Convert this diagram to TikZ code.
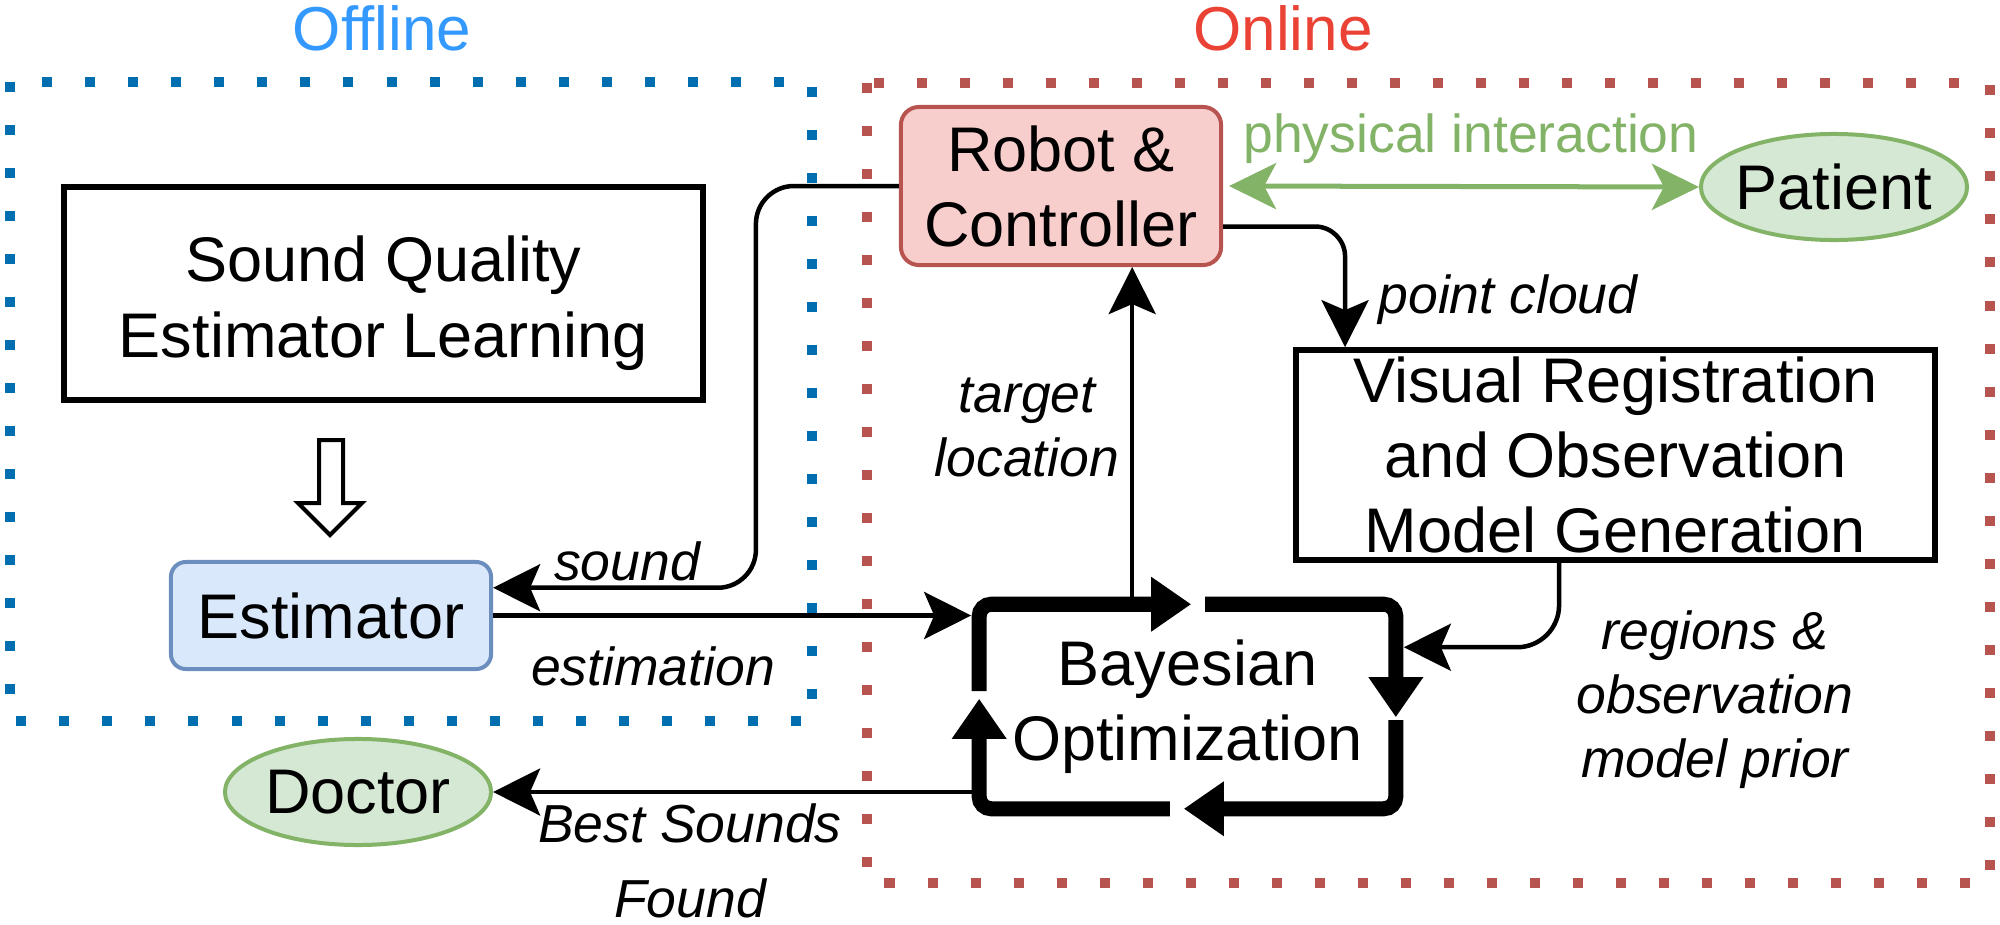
\documentclass[tikz,border=0pt]{standalone}
\usepackage{fontspec}
\setmainfont{Liberation Sans}
\usetikzlibrary{arrows.meta,shapes.geometric,calc}
\definecolor{offblue}{HTML}{3399FF}
\definecolor{onred}{HTML}{EA4335}
\definecolor{dotblue}{HTML}{006EAF}
\definecolor{dotred}{HTML}{B85450}
\definecolor{gfill}{HTML}{D5E8D4}
\definecolor{gline}{HTML}{82B366}
\definecolor{rfill}{HTML}{F8CECC}
\definecolor{rline}{HTML}{B85450}
\definecolor{bfill}{HTML}{DAE8FC}
\definecolor{bline}{HTML}{6C8EBF}
\tikzset{
  nodefont/.style={font=\fontsize{17.93}{21.34}\selectfont},
  lbl/.style={font=\itshape\fontsize{15.22}{18.21}\selectfont, inner sep=0pt, align=center},
  plainbox/.style={draw, line width=0.055cm, inner sep=0pt, align=center, nodefont},
  redbox/.style={draw=rline, fill=rfill, line width=0.04cm, rounded corners=0.18cm, inner sep=0pt, align=center, nodefont},
  bluebox/.style={draw=bline, fill=bfill, line width=0.04cm, rounded corners=0.15cm, inner sep=0pt, align=center, nodefont},
  greenell/.style={ellipse, draw=gline, fill=gfill, line width=0.04cm, inner sep=0pt, nodefont},
  conn/.style={line width=0.045cm, -{Stealth[length=0.47cm,width=0.47cm,inset=0.1cm]}},
  phys/.style={draw=gline, line width=0.05cm, {Stealth[length=0.47cm,width=0.46cm,inset=0.12cm]}-{Stealth[length=0.47cm,width=0.46cm,inset=0.12cm]}},
  loopseg/.style={line width=0.15cm, rounded corners=0.12cm, -{Triangle[length=0.40cm,width=0.52cm]}},
  zone/.style={line width=0.1cm, dash pattern=on 0.1cm off 0.33cm},
  title/.style={font=\fontsize{17.64}{21}\selectfont, inner sep=0pt, anchor=base}
}
\begin{document}
\begin{tikzpicture}[x=0.01cm, y=-0.01cm]
\useasboundingbox (0,0) rectangle (2000,924);

% zones
\draw[zone, draw=dotblue] (10,82) rectangle (812,721);
\draw[zone, draw=dotred] (867,83) rectangle (1990,883);
\node[title, text=offblue] (offline) at (382,50) {Offline};
\node[title, text=onred] (online) at (1283,50) {Online};

% nodes
\node[plainbox, minimum width=6.39cm, minimum height=2.13cm] (sq) at (383.5,293.5) {\rule{0pt}{0.65cm}Sound Quality\\Estimator Learning};
\node[bluebox, minimum width=3.20cm, minimum height=1.07cm] (est) at (331,615.5) {Estimator};
\node[greenell, minimum width=2.66cm, minimum height=1.06cm] (doc) at (358,792) {Doctor};
\node[redbox, minimum width=3.20cm, minimum height=1.58cm] (rb) at (1061,186) {Robot \&\\Controller};
\node[greenell, minimum width=2.66cm, minimum height=1.06cm] (pat) at (1834,187) {\makebox[0pt]{Patient}};
\node[plainbox, minimum width=6.39cm, minimum height=2.10cm] (vis) at (1615.5,455) {Visual Registration\\and Observation\\Model Generation};
\node[inner sep=0pt, align=center, nodefont, minimum width=4.15cm, minimum height=2.03cm] (bo) at (1187.5,706.5) {Bayesian\\Optimization};

% hollow arrow (offline learning -> estimator)
\draw[line width=0.04cm, fill=white, line join=miter] (319,440) -- (343,440) -- (343,503) -- (362,503) -- (330,535) -- (298,503) -- (319,503) -- cycle;

% Bayesian optimization loop
\draw[loopseg] ($(bo.north west)+(0,87)$) -- (bo.north west) -- ($(bo.north west)+(212,0)$);
\draw[loopseg] ($(bo.north west)+(226,0)$) -- (bo.north east) -- ($(bo.north east)+(0,113)$);
\draw[loopseg] ($(bo.north east)+(0,116)$) -- (bo.south east) -- ($(bo.south east)+(-212,0)$);
\draw[loopseg] ($(bo.south east)+(-226,0)$) -- (bo.south west) -- ($(bo.south west)+(0,-110)$);

% connectors
\coordinate (tl) at ($(bo.north west)+(153,0)$);
\draw[conn] (tl) -- (tl |- rb.south);
\draw[conn, shorten >=0.08cm] (est.east) -- (est.east -| bo.west);
\draw[conn] (doc.east -| bo.west) -- (doc.east);
\coordinate (sndin) at ($(est.north east)!0.25!(est.south east)$);
\draw[conn, rounded corners=0.38cm] (rb.west) -- ++(-143,0) |- (sndin);
\coordinate (pcout) at ($(rb.north east)!0.75!(rb.south east)$);
\coordinate (pcx) at ($(vis.north west)+(52,0)$);
\draw[conn, rounded corners=0.3cm] (pcout) -| (pcx);
\coordinate (regx) at ($(vis.south west)+(266,0)$);
\coordinate (rin) at ($(bo.north east)+(0,43)$);
\draw[conn, rounded corners=0.42cm, shorten >=0.08cm] (regx) |- (rin);
\draw[phys, shorten <=0.06cm] (rb.east) -- (pat.west);

% labels
\node[lbl, anchor=base] (lsound) at (627,580) {sound};
\node[lbl, anchor=base] (lest) at (653,685) {estimation};
\node[lbl] (ltarget) at (1027,427.5) {target\\location};
\node[lbl, anchor=base, text=gline, font=\fontsize{15.22}{18.21}\selectfont] (lphys) at (1471,152) {physical interaction};
\node[lbl, anchor=base] (lpc) at (1508,313) {point cloud};
\node[lbl] (lreg) at (1715,700) {regions \&\\observation\\model prior};
\node[lbl] (lbest) at (690,860.5) {Best Sounds\\[3.1pt]Found};
\end{tikzpicture}
\end{document}
